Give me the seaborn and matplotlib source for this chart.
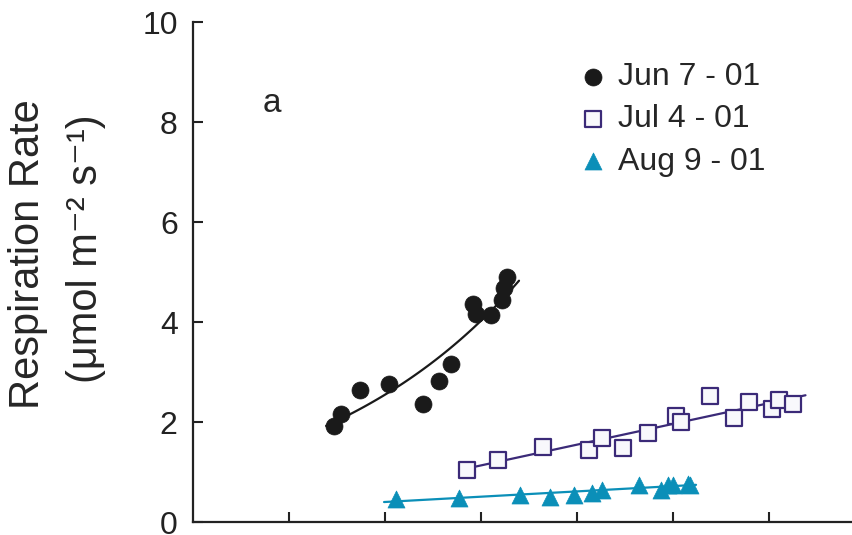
import numpy as np
import pandas as pd
import matplotlib
matplotlib.use("Agg")
import matplotlib.pyplot as plt
import seaborn as sns

# Soil temperature (deg C) and respiration rate for each sampling date
jun_temp = [7.36, 7.69, 8.70, 10.22, 11.99, 12.81, 13.42, 14.60, 14.72, 15.54, 16.08, 16.18, 16.37]
jun_resp = [1.93, 2.16, 2.64, 2.76, 2.36, 2.83, 3.17, 4.36, 4.17, 4.15, 4.45, 4.69, 4.91]

jul_temp = [14.29, 15.90, 18.24, 20.64, 21.32, 22.41, 23.71, 25.16, 25.40, 26.93, 28.19, 28.94, 30.14, 30.54, 31.27]
jul_resp = [1.05, 1.25, 1.51, 1.44, 1.69, 1.49, 1.79, 2.12, 2.01, 2.52, 2.09, 2.41, 2.26, 2.44, 2.37]

aug_temp = [10.57, 13.87, 17.03, 18.59, 19.86, 20.77, 21.32, 23.24, 24.38, 24.72, 25.02, 25.80, 25.89]
aug_resp = [0.47, 0.49, 0.54, 0.51, 0.55, 0.59, 0.65, 0.74, 0.65, 0.74, 0.75, 0.77, 0.74]

series_labels = ["Jun 7 - 01", "Jul 4 - 01", "Aug 9 - 01"]
fit_ranges = [(6.93, 16.98), (13.9, 31.9), (9.95, 26.2)]
fit_kinds = ["exp", "linear", "linear"]
y_ticks = [0, 2, 4, 6, 8, 10]

sns.set_style("ticks")
plt.rcParams["font.family"] = ["Liberation Sans", "DejaVu Sans"]

fig = plt.figure(figsize=(8.52, 5.35), dpi=100)
ax = fig.add_axes([193 / 852, 13 / 535, 1 - 193 / 852, 500 / 535])

styles = [
    dict(marker="o", color="#1a1a1a", edgecolor="#1a1a1a", s=150, linewidth=0.5),
    dict(marker="s", color="#f8f8fc", edgecolor="#3b2a78", s=120, linewidth=1.6),
    dict(marker="^", color="#0b8fb8", edgecolor="#0b8fb8", s=150, linewidth=0.5),
]
line_colors = ["#1a1a1a", "#3b2a78", "#0b8fb8"]

data = [(jun_temp, jun_resp), (jul_temp, jul_resp), (aug_temp, aug_resp)]
for (t, r), lab, st, lc, (x0, x1), kind in zip(data, series_labels, styles, line_colors, fit_ranges, fit_kinds):
    t = np.asarray(t)
    r = np.asarray(r)
    xs = np.linspace(x0, x1, 100)
    if kind == "exp":
        b, loga = np.polyfit(t, np.log(r), 1)
        ys = np.exp(loga + b * xs)
    else:
        m, c = np.polyfit(t, r, 1)
        ys = m * xs + c
    sns.lineplot(x=xs, y=ys, ax=ax, color=lc, linewidth=1.6, zorder=2)
    sns.scatterplot(x=t, y=r, ax=ax, label=lab, zorder=3, **st)

ax.set_xlim(0, (852 - 193) / 19.2)
ax.set_ylim(0, 10)
ax.set_xticks([5, 10, 15, 20, 25, 30])
ax.set_xticklabels([])
ax.set_yticks(y_ticks)
ax.set_yticklabels([str(v) for v in y_ticks], fontsize=23)
ax.tick_params(axis="both", direction="in", length=7, width=1.5, colors="#222222", pad=11)
for side in ["left", "bottom"]:
    ax.spines[side].set_linewidth(1.6)
    ax.spines[side].set_color("#222222")
sns.despine(ax=ax)

ax.text(0.12, 0.836, "a", transform=ax.transAxes, fontsize=24, ha="center", va="center")

fig.text(28 / 852, 0.525, "Respiration Rate", rotation=90, fontsize=30, ha="center", va="center")
fig.text(86 / 852, 0.536, "(μmol m⁻² s⁻¹)", rotation=90, fontsize=30,
         ha="center", va="center")

leg = ax.legend(loc="upper left", bbox_to_anchor=(0.558, 0.945), frameon=False, fontsize=23,
                handletextpad=0.2, labelspacing=0.38, borderaxespad=0, handlelength=1.2)

fig.savefig("out.png", dpi=100)
